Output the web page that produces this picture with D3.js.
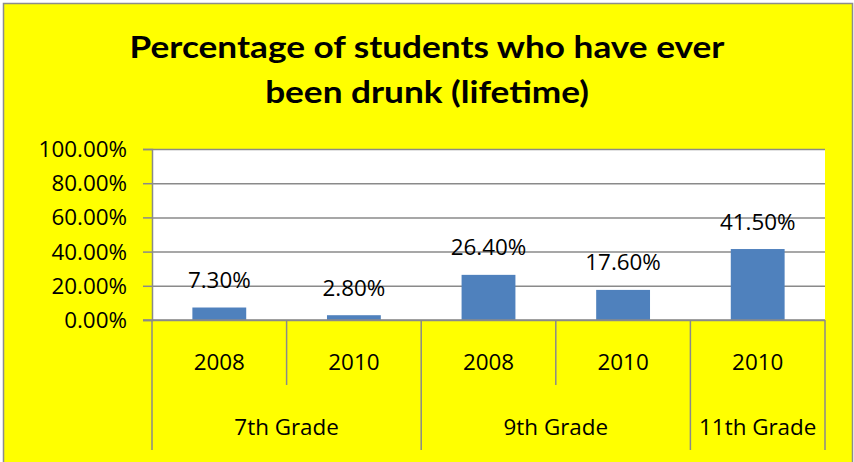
<!DOCTYPE html>
<html><head><meta charset="utf-8">
<script src="https://cdn.jsdelivr.net/npm/d3@7"></script>
<style>
html,body{margin:0;padding:0;background:#fff;}
svg{display:block;}
</style></head>
<body>
<svg id="chart" width="854" height="462"></svg>
<script>
const titleLines = ["Percentage of students who have ever", "been drunk (lifetime)"];
const grade = ["7th Grade", "7th Grade", "9th Grade", "9th Grade", "11th Grade"];
const year = ["2008", "2010", "2008", "2010", "2010"];
const values = [0.073, 0.028, 0.264, 0.176, 0.415];
const yTicks = [0, 0.2, 0.4, 0.6, 0.8, 1.0];

const W = 854, H = 462;
const plot = {left: 152, right: 825, top: 149, bottom: 320};
const gridColor = "#8a8a8a";
const font = "'Open Sans', 'DejaVu Sans', sans-serif";
const fs = 22.4;

const svg = d3.select("#chart");
svg.append("rect").attr("x", 3.5).attr("y", 3.5).attr("width", W - 5).attr("height", H + 5)
  .attr("fill", "#ffff00").attr("stroke", "#8c8c8c").attr("stroke-width", 1.5);

// title
svg.append("g").attr("transform", `translate(${W / 2},0) scale(1.135,1)`)
  .selectAll("text").data(titleLines).join("text")
  .attr("x", 0).attr("y", (d, i) => 58 + i * 45)
  .attr("text-anchor", "middle")
  .attr("font-family", "Lato, 'Open Sans', sans-serif").attr("font-weight", "bold")
  .attr("font-size", 31).attr("fill", "#000").text(d => d);

const idx = values.map((d, i) => i);
const xc = d3.scaleBand().domain(idx).range([plot.left, plot.right]).padding(0);
const y = d3.scaleLinear().domain([0, 1]).range([plot.bottom, plot.top]);

// plot area
svg.append("rect").attr("x", plot.left).attr("y", plot.top)
  .attr("width", plot.right - plot.left).attr("height", plot.bottom - plot.top).attr("fill", "#fff");

// y axis with gridlines
const yAxis = d3.axisLeft(y).tickValues(yTicks).tickFormat(d3.format(".2%"))
  .tickSize(9).tickPadding(16);
const gy = svg.append("g").attr("transform", `translate(${plot.left},0)`).call(yAxis);
gy.select(".domain").attr("stroke", gridColor).attr("stroke-width", 1.5);
gy.selectAll(".tick line").attr("stroke", gridColor).attr("stroke-width", 1.5);
gy.selectAll(".tick text").attr("font-family", font).attr("font-size", fs).attr("fill", "#000")
  .attr("dy", "0.33em");
gy.selectAll(".tick").append("line").attr("x1", 0).attr("x2", plot.right - plot.left)
  .attr("stroke", gridColor).attr("stroke-width", 1.5);

// bars
const bw = xc.bandwidth();
svg.append("g").selectAll("rect").data(values).join("rect")
  .attr("x", (d, i) => xc(i) + bw * 0.3)
  .attr("width", bw * 0.4)
  .attr("y", d => y(d))
  .attr("height", d => y(0) - y(d))
  .attr("fill", "#4f81bd");

// data labels
svg.append("g").selectAll("text").data(values).join("text")
  .attr("x", (d, i) => xc(i) + bw / 2)
  .attr("y", d => y(d) - 19.5)
  .attr("text-anchor", "middle")
  .attr("font-family", font).attr("font-size", fs).attr("fill", "#000")
  .text(d => d3.format(".2%")(d));

// x axis: baseline
svg.append("line").attr("x1", plot.left - 9).attr("x2", plot.right)
  .attr("y1", plot.bottom).attr("y2", plot.bottom)
  .attr("stroke", gridColor).attr("stroke-width", 1.5);

// year labels
svg.append("g").selectAll("text").data(year).join("text")
  .attr("x", (d, i) => xc(i) + bw / 2).attr("y", 369.5)
  .attr("text-anchor", "middle")
  .attr("font-family", font).attr("font-size", fs).attr("fill", "#000").text(d => d);

// group spans
const groups = [];
grade.forEach((g, i) => {
  const last = groups[groups.length - 1];
  if (last && last.name === g) last.end = i; else groups.push({name: g, start: i, end: i});
});

// separators
const seps = [];
idx.forEach(i => {
  const isGroupStart = groups.some(g => g.start === i);
  seps.push({x: xc(i), long: isGroupStart});
});
seps.push({x: plot.right, long: true});
svg.append("g").selectAll("line").data(seps).join("line")
  .attr("x1", d => d.x).attr("x2", d => d.x)
  .attr("y1", plot.bottom).attr("y2", d => d.long ? 450 : 385)
  .attr("stroke", gridColor).attr("stroke-width", 1.5);

// grade labels
svg.append("g").selectAll("text").data(groups).join("text")
  .attr("x", g => (xc(g.start) + xc(g.end) + bw) / 2).attr("y", 435)
  .attr("text-anchor", "middle")
  .attr("font-family", font).attr("font-size", fs)
  .attr("fill", "#000").text(g => g.name);
</script>
</body></html>
